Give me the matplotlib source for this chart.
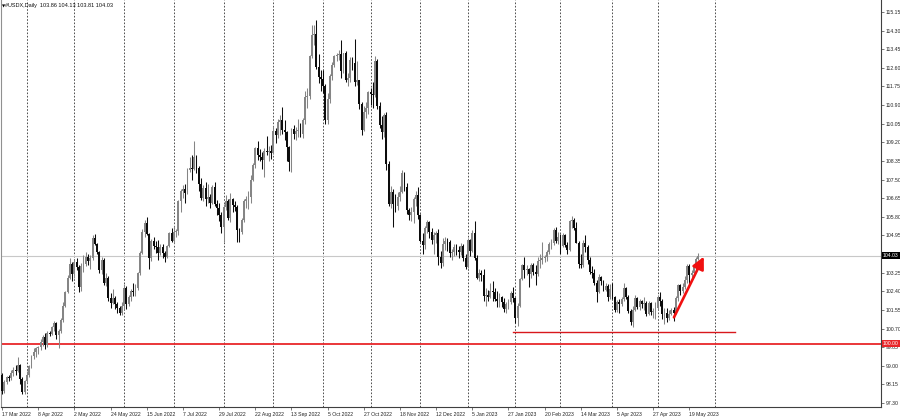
import numpy as np
import matplotlib
matplotlib.use('Agg')
import matplotlib.pyplot as plt
from matplotlib.transforms import blended_transform_factory

# daily bars, 17 Mar 2022 .. 25 May 2023 (one row = 16 bars)
opens = [98.60, 97.85, 98.25, 98.50, 98.45, 98.65, 98.80, 98.75, 99.05, 98.40, 97.80, 98.30, 98.60, 99.00, 99.45, 99.65,
         99.80, 99.85, 100.10, 100.30, 99.95, 100.50, 100.45, 100.75, 100.95, 100.40, 100.60, 101.10, 101.75, 102.35, 103.00, 103.65,
         103.20, 103.75, 103.50, 102.60, 103.55, 103.65, 103.95, 103.80, 103.90, 104.85, 104.55, 104.20, 103.35, 103.85, 102.80, 103.00,
         102.10, 101.85, 102.10, 101.80, 101.65, 101.40, 101.75, 102.55, 101.80, 102.15, 102.40, 102.35, 102.55, 103.25, 104.15, 105.10,
         105.50, 105.00, 103.90, 104.70, 104.45, 104.40, 104.15, 104.40, 104.15, 103.95, 104.45, 105.05, 104.70, 105.10, 105.15, 106.50,
         107.00, 107.05, 106.90, 107.95, 108.05, 108.00, 108.55, 108.05, 107.30, 106.65, 107.10, 106.60, 106.70, 106.45, 107.15, 106.40,
         106.20, 105.90, 105.35, 106.25, 106.50, 105.75, 106.60, 106.35, 106.25, 105.20, 105.10, 105.65, 106.50, 106.60, 106.70, 107.50,
         108.15, 108.95, 108.60, 108.55, 108.40, 108.80, 108.75, 108.80, 108.70, 109.70, 109.55, 110.15, 110.20, 109.75, 109.65, 109.00,
         108.30, 109.80, 109.60, 109.70, 109.75, 109.60, 110.20, 111.25, 111.30, 113.15, 114.10, 114.15, 112.65, 112.20, 112.10, 111.75,
         110.20, 111.20, 112.25, 112.75, 113.15, 113.20, 113.25, 112.45, 113.30, 112.05, 112.15, 112.95, 112.80, 111.95, 112.05, 110.95,
         109.75, 110.60, 110.75, 111.50, 111.40, 111.35, 112.90, 110.85, 110.00, 109.65, 110.45, 108.20, 106.40, 106.95, 106.40, 106.30,
         106.70, 106.95, 107.80, 107.15, 106.10, 105.90, 106.00, 106.60, 106.80, 105.90, 104.70, 104.50, 105.30, 105.55, 105.10, 104.75,
         104.95, 105.05, 103.95, 103.70, 104.55, 104.70, 104.65, 104.15, 104.20, 104.40, 104.30, 104.20, 104.45, 103.90, 103.50, 104.75,
         104.25, 105.05, 103.90, 103.00, 103.25, 103.15, 102.20, 102.25, 102.15, 102.40, 102.35, 102.05, 101.95, 102.15, 101.90, 101.60,
         101.80, 101.90, 102.30, 102.10, 101.20, 101.75, 102.95, 103.60, 103.35, 103.40, 103.20, 103.60, 103.30, 103.20, 103.80, 103.85,
         103.90, 103.95, 104.20, 104.55, 104.60, 105.20, 104.70, 104.90, 104.45, 104.95, 104.50, 104.30, 105.60, 105.65, 105.30, 104.60,
         103.65, 103.60, 104.60, 104.40, 103.85, 103.30, 103.25, 102.80, 102.35, 103.05, 102.85, 102.45, 102.65, 102.15, 102.50, 102.15,
         101.55, 101.90, 101.80, 102.05, 102.55, 102.15, 101.50, 101.00, 101.55, 102.10, 101.70, 101.95, 101.80, 101.85, 101.35, 101.85,
         101.45, 101.50, 101.65, 102.15, 101.95, 101.35, 101.40, 101.20, 101.35, 101.55, 101.40, 102.10, 102.70, 102.40, 102.60, 102.90,
         103.55, 103.15, 103.25, 103.50, 103.86]
highs = [98.65, 98.35, 98.55, 98.60, 98.80, 98.95, 99.05, 99.40, 99.10, 98.50, 98.35, 98.75, 99.05, 99.50, 99.80, 99.85,
         99.90, 100.20, 100.40, 100.50, 100.60, 100.60, 100.80, 101.05, 101.00, 100.70, 101.20, 101.90, 102.40, 103.15, 103.90, 103.75,
         103.85, 103.90, 103.60, 103.70, 104.05, 104.20, 104.10, 104.05, 104.95, 105.00, 104.60, 104.25, 103.95, 103.90, 103.25, 103.10,
         102.30, 102.50, 102.20, 101.90, 101.75, 101.90, 102.75, 102.65, 102.25, 102.50, 102.80, 102.75, 103.30, 104.25, 105.25, 105.65,
         105.80, 105.05, 104.80, 104.90, 104.70, 104.75, 104.55, 104.55, 104.25, 104.50, 105.10, 105.30, 105.40, 105.25, 106.55, 107.05,
         107.25, 107.30, 108.05, 108.55, 108.60, 109.25, 108.60, 108.10, 107.55, 107.25, 107.40, 107.30, 106.85, 107.25, 107.40, 106.55,
         106.45, 106.00, 106.40, 106.80, 106.60, 106.90, 106.65, 106.50, 106.35, 105.30, 105.75, 106.60, 106.75, 107.00, 107.70, 108.25,
         109.00, 109.25, 108.90, 108.75, 108.95, 109.50, 109.05, 109.10, 109.95, 109.85, 110.25, 110.45, 110.80, 110.20, 109.70, 109.05,
         109.85, 110.00, 109.90, 110.25, 110.10, 110.30, 111.55, 111.70, 113.20, 114.55, 114.55, 114.78, 113.25, 112.50, 112.50, 111.85,
         111.45, 112.30, 112.85, 113.20, 113.30, 113.40, 113.85, 113.30, 113.35, 112.35, 113.10, 113.10, 113.90, 112.90, 112.05, 111.05,
         110.85, 111.05, 111.55, 111.70, 111.95, 113.15, 113.00, 111.05, 110.40, 110.55, 110.60, 108.35, 107.20, 107.05, 106.85, 106.95,
         107.20, 107.95, 107.85, 107.35, 106.20, 106.25, 106.70, 107.00, 107.15, 105.95, 105.05, 105.40, 105.65, 105.60, 105.30, 105.10,
         105.15, 105.25, 104.25, 104.85, 104.90, 104.85, 104.75, 104.35, 104.55, 104.55, 104.45, 104.60, 104.55, 104.10, 104.85, 104.80,
         105.20, 105.60, 104.05, 103.40, 103.35, 103.40, 102.55, 102.45, 102.80, 102.85, 102.55, 102.40, 102.30, 102.20, 102.10, 101.90,
         102.05, 102.40, 102.60, 102.15, 101.85, 103.00, 103.65, 103.95, 103.60, 103.45, 103.70, 103.70, 103.60, 103.95, 104.10, 104.65,
         104.05, 104.30, 104.65, 104.80, 105.30, 105.35, 105.10, 105.00, 105.05, 105.00, 104.65, 105.65, 105.85, 105.75, 105.55, 104.70,
         104.10, 104.75, 104.95, 104.50, 103.95, 103.55, 103.40, 102.90, 103.20, 103.10, 102.90, 102.80, 102.75, 102.75, 102.80, 102.20,
         102.00, 102.05, 102.15, 102.80, 102.60, 102.25, 101.60, 101.75, 102.25, 102.15, 102.05, 102.00, 102.15, 101.95, 101.95, 101.90,
         101.65, 101.90, 102.25, 102.35, 102.05, 101.65, 101.65, 101.55, 101.65, 101.70, 102.20, 102.75, 102.75, 102.80, 103.10, 103.65,
         103.65, 103.35, 103.60, 103.95, 104.13]
lows = [97.70, 97.75, 98.15, 98.30, 98.35, 98.55, 98.60, 98.70, 98.15, 97.70, 97.70, 98.20, 98.50, 98.90, 99.30, 99.40,
        99.55, 99.70, 99.90, 99.75, 99.85, 100.35, 100.40, 100.60, 100.20, 99.80, 100.50, 101.00, 101.70, 102.30, 102.95, 102.85,
        103.00, 103.35, 102.35, 102.40, 103.30, 103.55, 103.60, 103.40, 103.85, 104.50, 104.10, 103.25, 103.20, 102.70, 102.65, 101.95,
        101.65, 101.80, 101.60, 101.40, 101.30, 101.30, 101.60, 101.60, 101.75, 101.95, 102.20, 102.20, 102.45, 103.15, 104.10, 104.90,
        104.95, 103.40, 103.80, 104.35, 104.15, 103.85, 104.05, 103.90, 103.75, 103.90, 104.40, 104.65, 104.60, 104.90, 104.95, 106.00,
        106.65, 106.45, 106.85, 107.85, 107.50, 107.95, 107.80, 107.00, 106.55, 106.50, 106.30, 106.45, 106.20, 106.40, 106.30, 105.90,
        105.60, 105.05, 104.65, 106.10, 105.65, 105.55, 106.00, 106.05, 104.65, 104.65, 105.00, 105.55, 106.20, 106.15, 106.45, 107.45,
        108.05, 108.40, 108.35, 108.00, 107.60, 108.60, 108.35, 108.45, 108.65, 109.15, 109.40, 109.55, 109.60, 109.30, 108.35, 107.90,
        107.85, 109.35, 109.30, 109.45, 109.45, 109.40, 110.05, 110.75, 111.20, 113.05, 113.65, 112.55, 111.90, 111.55, 111.45, 110.05,
        110.05, 111.00, 112.05, 112.65, 112.90, 112.95, 112.15, 112.35, 111.95, 111.75, 111.95, 112.50, 111.75, 111.80, 110.70, 109.55,
        109.70, 110.30, 110.50, 110.90, 110.75, 111.25, 110.70, 109.85, 109.35, 109.45, 107.95, 106.30, 106.20, 105.35, 106.00, 106.10,
        106.50, 106.90, 107.00, 105.95, 105.65, 105.60, 105.50, 106.30, 105.70, 104.65, 104.10, 104.35, 105.05, 104.85, 104.55, 104.10,
        104.60, 103.60, 103.45, 103.55, 104.30, 104.25, 103.95, 103.85, 104.00, 104.05, 103.90, 104.05, 103.80, 103.40, 103.45, 104.00,
        104.20, 103.85, 102.95, 102.85, 102.85, 101.95, 101.75, 101.95, 102.10, 101.95, 101.95, 101.70, 101.70, 101.70, 101.45, 101.40,
        101.60, 101.80, 101.90, 100.95, 100.82, 101.70, 102.90, 103.00, 103.15, 102.60, 103.00, 103.15, 102.70, 103.10, 103.45, 103.65,
        103.75, 103.80, 104.10, 104.35, 104.50, 104.60, 104.55, 104.10, 104.40, 104.40, 104.10, 104.25, 105.30, 105.20, 104.60, 103.45,
        103.45, 103.50, 104.20, 103.65, 103.20, 103.00, 102.70, 101.90, 102.30, 102.70, 102.40, 102.40, 101.95, 102.05, 102.05, 101.45,
        101.45, 101.40, 101.75, 101.95, 102.05, 101.40, 100.85, 100.79, 101.50, 101.60, 101.55, 101.65, 101.55, 101.25, 101.30, 101.30,
        101.20, 101.15, 101.60, 101.75, 101.15, 100.90, 101.00, 101.10, 101.30, 101.05, 101.35, 101.95, 102.25, 102.30, 102.50, 102.80,
        102.70, 102.95, 103.05, 103.35, 103.81]
closes = [97.85, 98.25, 98.50, 98.45, 98.65, 98.80, 98.75, 99.05, 98.40, 97.80, 98.30, 98.60, 99.00, 99.45, 99.65, 99.80,
          99.85, 100.10, 100.30, 99.95, 100.50, 100.45, 100.75, 100.95, 100.40, 100.60, 101.10, 101.75, 102.35, 103.00, 103.65, 103.20,
          103.75, 103.50, 102.60, 103.55, 103.65, 103.95, 103.80, 103.90, 104.85, 104.55, 104.20, 103.35, 103.85, 102.80, 103.00, 102.10,
          101.85, 102.10, 101.80, 101.65, 101.40, 101.75, 102.55, 101.80, 102.15, 102.40, 102.35, 102.55, 103.25, 104.15, 105.10, 105.50,
          105.00, 103.90, 104.70, 104.45, 104.40, 104.15, 104.40, 104.15, 103.95, 104.45, 105.05, 104.70, 105.10, 105.15, 106.50, 107.00,
          107.05, 106.90, 107.95, 108.05, 108.00, 108.55, 108.05, 107.30, 106.65, 107.10, 106.60, 106.70, 106.45, 107.15, 106.40, 106.20,
          105.90, 105.35, 106.25, 106.50, 105.75, 106.60, 106.35, 106.25, 105.20, 105.10, 105.65, 106.50, 106.60, 106.70, 107.50, 108.15,
          108.95, 108.60, 108.55, 108.40, 108.80, 108.75, 108.80, 108.70, 109.70, 109.55, 110.15, 110.20, 109.75, 109.65, 109.00, 108.30,
          109.80, 109.60, 109.70, 109.75, 109.60, 110.20, 111.25, 111.30, 113.15, 114.10, 114.15, 112.65, 112.20, 112.10, 111.75, 110.20,
          111.20, 112.25, 112.75, 113.15, 113.20, 113.25, 112.45, 113.30, 112.05, 112.15, 112.95, 112.80, 111.95, 112.05, 110.95, 109.75,
          110.60, 110.75, 111.50, 111.40, 111.35, 112.90, 110.85, 110.00, 109.65, 110.45, 108.20, 106.40, 106.95, 106.40, 106.30, 106.70,
          106.95, 107.80, 107.15, 106.10, 105.90, 106.00, 106.60, 106.80, 105.90, 104.70, 104.50, 105.30, 105.55, 105.10, 104.75, 104.95,
          105.05, 103.95, 103.70, 104.55, 104.70, 104.65, 104.15, 104.20, 104.40, 104.30, 104.20, 104.45, 103.90, 103.50, 104.75, 104.25,
          105.05, 103.90, 103.00, 103.25, 103.15, 102.20, 102.25, 102.15, 102.40, 102.35, 102.05, 101.95, 102.15, 101.90, 101.60, 101.80,
          101.90, 102.30, 102.10, 101.20, 101.75, 102.95, 103.60, 103.35, 103.40, 103.20, 103.60, 103.30, 103.20, 103.80, 103.85, 103.90,
          103.95, 104.20, 104.55, 104.60, 105.20, 104.70, 104.90, 104.45, 104.95, 104.50, 104.30, 105.60, 105.65, 105.30, 104.60, 103.65,
          103.60, 104.60, 104.40, 103.85, 103.30, 103.25, 102.80, 102.35, 103.05, 102.85, 102.45, 102.65, 102.15, 102.50, 102.15, 101.55,
          101.90, 101.80, 102.05, 102.55, 102.15, 101.50, 101.00, 101.55, 102.10, 101.70, 101.95, 101.80, 101.85, 101.35, 101.85, 101.45,
          101.50, 101.65, 102.15, 101.95, 101.35, 101.40, 101.20, 101.35, 101.55, 101.40, 102.10, 102.70, 102.40, 102.60, 102.90, 103.55,
          103.15, 103.25, 103.50, 103.86, 104.03]

x_labels = ['17 Mar 2022', '8 Apr 2022', '2 May 2022', '24 May 2022', '15 Jun 2022', '7 Jul 2022',
            '29 Jul 2022', '22 Aug 2022', '13 Sep 2022', '5 Oct 2022', '27 Oct 2022', '18 Nov 2022',
            '12 Dec 2022', '5 Jan 2023', '27 Jan 2023', '20 Feb 2023', '14 Mar 2023', '5 Apr 2023',
            '27 Apr 2023', '19 May 2023']
label_step = 16
month_bars = [11, 32, 54, 76, 98, 120, 142, 163, 185, 206, 227, 247, 270, 290, 315.5]

last_price = 104.03
level_price = 100.00
support_price = 100.56
support_span = (226, 324)
arrow_from = (297.2, 101.21)
arrow_to = (310.4, 103.98)
title = '#USDX,Daily  103.86 104.13 103.81 104.03'

FONT = 'Liberation Sans'
FS = 3.7

fig = plt.figure(figsize=(9, 4.2), dpi=100)
ax = fig.add_axes([0.0012, 0.0317, 0.9775, 0.9683])

o, h, l, c = map(np.array, (opens, highs, lows, closes))
idx = np.arange(len(c))
cols = np.where(c >= o, '#858585', '#0c0c0c')
ax.vlines(idx, l, h, colors=cols, lw=0.75, zorder=3)
ax.bar(idx, np.maximum(np.abs(c - o), 0.03), bottom=np.minimum(o, c), width=0.82,
       color=cols, linewidth=0, zorder=3)

for m in month_bars:
    ax.axvline(m, color='#333333', lw=0.6, linestyle=(0, (2, 2)), zorder=1)

ax.axhline(last_price, color='#c8c8c8', lw=0.8, zorder=2)
ax.axhline(level_price, color='#e8262a', lw=1.3, zorder=2)
ax.plot(support_span, [support_price, support_price], color='#d8181c', lw=1.0, zorder=2)
ax.annotate('', xy=arrow_to, xytext=arrow_from,
            arrowprops=dict(arrowstyle='-|>,head_length=0.6,head_width=0.3', color='#f01010',
                            lw=1.9, mutation_scale=12, shrinkA=0, shrinkB=0), zorder=4)

ax.set_xlim(-0.44, 388.7)
ax.set_ylim(97.131, 115.698)

# right price scale; the 104.10 mark sits under the current-price box
yt = np.round(97.30 + 0.85 * np.arange(22), 2)
ax.yaxis.tick_right()
ax.set_yticks(yt)
ax.set_yticklabels(['' if abs(v - last_price) < 0.2 else '%.2f' % v for v in yt],
                   fontfamily=FONT, fontsize=FS, color='#222222')
ax.set_xticks(np.arange(len(x_labels)) * label_step)
ax.set_xticklabels(x_labels, fontfamily=FONT, fontsize=FS, color='#222222', ha='left')
ax.tick_params(axis='y', direction='out', length=2, width=0.5, pad=1.5, colors='#444444')
ax.tick_params(axis='x', direction='out', length=2.5, width=0.5, pad=1.2, colors='#444444')
for lab in ax.get_xticklabels() + ax.get_yticklabels():
    lab.set_color('#222222')

ax.spines['top'].set_visible(False)
ax.spines['left'].set_color('#909090')
ax.spines['right'].set_color('#404040')
ax.spines['bottom'].set_color('#404040')
for s in ('left', 'right', 'bottom'):
    ax.spines[s].set_linewidth(0.8)

trans = blended_transform_factory(ax.transAxes, ax.transData)
ax.text(1.0025, last_price, '%.2f' % last_price, transform=trans, fontfamily=FONT, fontsize=FS,
        color='white', va='center', ha='left', clip_on=False, zorder=6,
        bbox=dict(boxstyle='square,pad=0.2', fc='black', ec='none'))
ax.text(1.0025, level_price, '%.2f' % level_price, transform=trans, fontfamily=FONT, fontsize=FS,
        color='white', va='center', ha='left', clip_on=False, zorder=6,
        bbox=dict(boxstyle='square,pad=0.2', fc='#e8262a', ec='none'))

fig.text(1.5 / 900, 1 - 6 / 420, '\u25bc', fontfamily='DejaVu Sans', fontsize=3, va='center', ha='left')
fig.text(5 / 900, 1 - 6 / 420, title, fontfamily=FONT, fontsize=4, va='center', ha='left', color='#111111')

fig.savefig('out.png', dpi=100)
